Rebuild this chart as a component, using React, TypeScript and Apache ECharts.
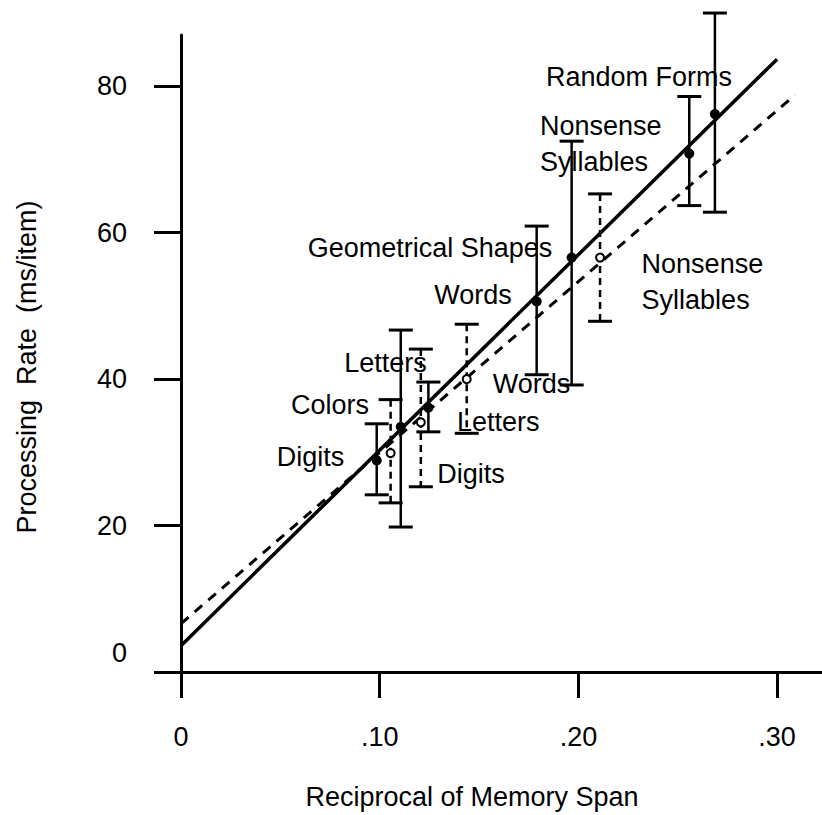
import React, { useEffect, useRef } from 'react';
import * as echarts from 'echarts';

// Filled points (solid error bars, solid fit)
const solidX = [0.0985, 0.1106, 0.1245, 0.179, 0.1966, 0.2558, 0.2687];
const solidY = [28.9, 33.5, 36.1, 50.6, 56.6, 70.8, 76.2];
const solidLow = [24.2, 19.8, 32.8, 40.6, 39.2, 63.7, 62.8];
const solidHigh = [33.9, 46.7, 39.6, 60.9, 72.5, 78.6, 90.0];

// Open points (dashed error bars, dashed fit)
const dashedX = [0.1055, 0.1207, 0.1438, 0.2109];
const dashedY = [29.9, 34.1, 40.0, 56.6];
const dashedLow = [23.1, 25.3, 32.6, 47.9];
const dashedHigh = [37.2, 44.1, 47.5, 65.3];

// Fitted lines (end points)
const solidFit = [[0, 3.6], [0.3, 83.7]];
const dashedFit = [[0, 6.6], [0.309, 78.8]];

// Axis ticks
const xTicks = [0, 0.1, 0.2, 0.3];
const xTickLabels = ['0', '.10', '.20', '.30'];
const yTicks = [0, 20, 40, 60, 80];
const yTickLabels = ['0', '20', '40', '60', '80'];

// Category annotations (anchor in data coordinates)
const annotations = [
  { text: 'Random Forms', x: 0.2305, y: 81.2, anchor: 'middle' },
  { text: 'Nonsense\nSyllables', x: 0.1807, y: 72.1, anchor: 'start' },
  { text: 'Geometrical Shapes', x: 0.1253, y: 57.9, anchor: 'middle' },
  { text: 'Words', x: 0.147, y: 51.5, anchor: 'middle' },
  { text: 'Letters', x: 0.1029, y: 42.2, anchor: 'middle' },
  { text: 'Colors', x: 0.075, y: 36.5, anchor: 'middle' },
  { text: 'Digits', x: 0.0652, y: 29.4, anchor: 'middle' },
  { text: 'Digits', x: 0.1459, y: 27.1, anchor: 'middle' },
  { text: 'Letters', x: 0.1597, y: 34.2, anchor: 'middle' },
  { text: 'Words', x: 0.1764, y: 39.4, anchor: 'middle' },
  { text: 'Nonsense\nSyllables', x: 0.2318, y: 53.2, anchor: 'start' },
];

const xTitle = 'Reciprocal of Memory Span';
const yTitle = 'Processing  Rate  (ms/item)';

const FONT = '"Liberation Sans", Arial, Helvetica, sans-serif';
const FS = 27;

function errorBarSeries(xs: number[], lo: number[], hi: number[], dashed: boolean) {
  return {
    type: 'custom',
    clip: false,
    silent: true,
    z: 3,
    data: xs.map((x, i) => [x, lo[i], hi[i]]),
    renderItem: (params: any, api: any) => {
      const x = api.value(0);
      const top = api.coord([x, api.value(2)]);
      const bot = api.coord([x, api.value(1)]);
      const hw = 12;
      return {
        type: 'group',
        children: [
          {
            type: 'line',
            shape: { x1: top[0], y1: top[1], x2: bot[0], y2: bot[1] },
            style: { stroke: '#000', lineWidth: 2.5, lineDash: dashed ? [7, 5] : null },
          },
          {
            type: 'line',
            shape: { x1: top[0] - hw, y1: top[1], x2: top[0] + hw, y2: top[1] },
            style: { stroke: '#000', lineWidth: 3 },
          },
          {
            type: 'line',
            shape: { x1: bot[0] - hw, y1: bot[1], x2: bot[0] + hw, y2: bot[1] },
            style: { stroke: '#000', lineWidth: 3 },
          },
        ],
      };
    },
  };
}

export default function App() {
  const ref = useRef<HTMLDivElement>(null);
  useEffect(() => {
    if (!ref.current) return;
    const chart = echarts.init(ref.current, null, { renderer: 'svg' });
    const labelBase = {
      show: true,
      position: [0, 0],
      verticalAlign: 'middle',
      fontSize: FS,
      lineHeight: 36,
      color: '#000',
      fontFamily: FONT,
      textBorderWidth: 0,
      textBorderColor: 'transparent',
      textShadowBlur: 0,
    };
    const option: any = {
      animation: false,
      backgroundColor: '#fff',
      textStyle: { fontFamily: FONT, color: '#000' },
      grid: { left: 181, top: 35, right: 0, bottom: 143, containLabel: false, outerBoundsMode: 'none' },
      xAxis: {
        type: 'value',
        min: 0,
        max: 0.3226,
        interval: 0.1,
        splitLine: { show: false },
        axisLine: { show: true, onZero: false, lineStyle: { color: '#000', width: 3 } },
        axisTick: { show: true, length: 26, customValues: xTicks, lineStyle: { color: '#000', width: 3 } },
        axisLabel: {
          customValues: xTicks,
          margin: 51,
          fontSize: FS,
          color: '#000',
          fontFamily: FONT,
          formatter: (v: number) => {
            const i = xTicks.findIndex((t) => Math.abs(t - v) < 1e-6);
            return i >= 0 ? xTickLabels[i] : '';
          },
        },
      },
      yAxis: {
        type: 'value',
        min: 0,
        max: 87,
        interval: 20,
        splitLine: { show: false },
        axisLine: { show: true, onZero: false, lineStyle: { color: '#000', width: 3 } },
        axisTick: { show: true, length: 27, customValues: yTicks, lineStyle: { color: '#000', width: 3 } },
        axisLabel: {
          customValues: yTicks,
          margin: 54,
          fontSize: FS,
          color: '#000',
          fontFamily: FONT,
          formatter: (v: number) => {
            const i = yTicks.findIndex((t) => Math.abs(t - v) < 1e-6);
            if (i < 0) return '';
            return v === 0 ? '{z|' + yTickLabels[i] + '}' : yTickLabels[i];
          },
          rich: { z: { fontSize: FS, color: '#000', fontFamily: FONT, padding: [0, 0, 38, 0] } },
        },
      },
      series: [
        {
          type: 'line',
          data: solidFit,
          showSymbol: false,
          silent: true,
          z: 2,
          lineStyle: { color: '#000', width: 3.5 },
        },
        {
          type: 'line',
          data: dashedFit,
          showSymbol: false,
          silent: true,
          z: 2,
          lineStyle: { color: '#000', width: 3, type: [10, 8] },
        },
        errorBarSeries(solidX, solidLow, solidHigh, false),
        errorBarSeries(dashedX, dashedLow, dashedHigh, true),
        {
          type: 'scatter',
          data: solidX.map((x, i) => [x, solidY[i]]),
          symbol: 'circle',
          symbolSize: 10,
          silent: true,
          z: 5,
          itemStyle: { color: '#000', opacity: 1 },
        },
        {
          type: 'scatter',
          data: dashedX.map((x, i) => [x, dashedY[i]]),
          symbol: 'circle',
          symbolSize: 8,
          silent: true,
          z: 5,
          itemStyle: { color: '#fff', borderColor: '#000', borderWidth: 2, opacity: 1 },
        },
        {
          type: 'scatter',
          silent: true,
          z: 6,
          symbolSize: 0,
          itemStyle: { color: '#000', opacity: 1 },
          label: { ...labelBase },
          data: annotations.map((a) => ({
            value: [a.x, a.y],
            label: {
              ...labelBase,
              formatter: a.text,
              align: a.anchor === 'start' ? 'left' : a.anchor === 'end' ? 'right' : 'center',
            },
          })),
        },
      ],
      graphic: [
        {
          type: 'text',
          x: 472,
          y: 797,
          silent: true,
          style: { text: xTitle, font: FS + 'px ' + FONT, fill: '#000', textAlign: 'center', textVerticalAlign: 'middle' },
        },
        {
          type: 'text',
          x: 27,
          y: 367,
          rotation: Math.PI / 2,
          silent: true,
          style: { text: yTitle, font: FS + 'px ' + FONT, fill: '#000', textAlign: 'center', textVerticalAlign: 'middle' },
        },
      ],
    };
    chart.setOption(option);
    return () => chart.dispose();
  }, []);
  return (
    <div
      ref={ref}
      style={{ position: 'fixed', left: 0, top: 0, width: 822, height: 815, background: '#fff' }}
    />
  );
}
